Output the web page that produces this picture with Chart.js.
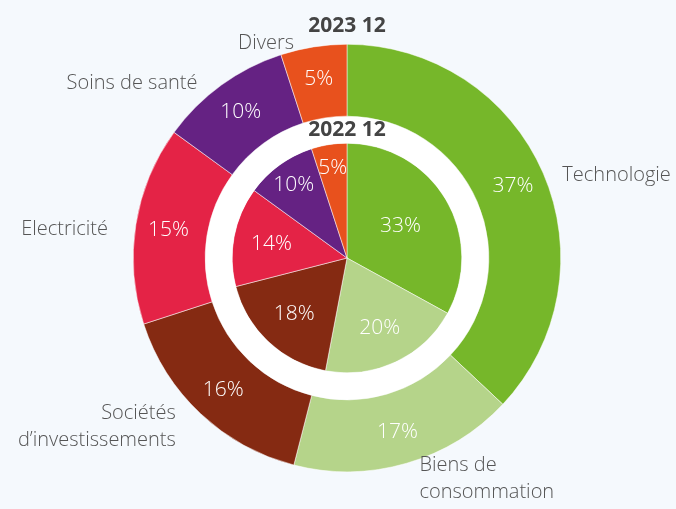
<!DOCTYPE html>
<html>
<head>
<meta charset="utf-8">
<script src="https://cdn.jsdelivr.net/npm/chart.js@4/dist/chart.umd.min.js"></script>
<style>
  html, body { margin: 0; padding: 0; background: #f5f9fd; }
  #wrap { width: 676px; height: 509px; position: relative; }
</style>
</head>
<body>
<div id="wrap"><canvas id="chart"></canvas></div>
<script>
const categories = ['Technologie', ['Biens de', 'consommation'], ['Sociétés', 'd’investissements'], 'Electricité', 'Soins de santé', 'Divers'];
const values2023 = [37, 17, 16, 15, 10, 5];
const values2022 = [33, 20, 18, 14, 10, 5];
const colors = ['#76b72a', '#b5d48a', '#852a12', '#e42346', '#652283', '#e8511d'];
const outerTitle = '2023 12';
const innerTitle = '2022 12';

const FONT = '"Open Sans", sans-serif';

// draws the % inside slices, category names around the outer ring and both titles
const labelsPlugin = {
    id: 'ringLabels',
    afterDatasetsDraw(chart) {
        const ctx = chart.ctx;
        const outer = chart.getDatasetMeta(0);
        const inner = chart.getDatasetMeta(2);
        ctx.save();
        ctx.textBaseline = 'middle';

        ctx.fillStyle = '#fff';
        ctx.textAlign = 'center';
        ctx.font = '300 21px ' + FONT;
        outer.data.forEach((arc, i) => {
            const a = (arc.startAngle + arc.endAngle) / 2;
            const r = (arc.innerRadius + arc.outerRadius) / 2 + 3;
            ctx.fillText(values2023[i] + '%', arc.x + Math.cos(a) * r, arc.y + Math.sin(a) * r);
        });
        inner.data.forEach((arc, i) => {
            const a = (arc.startAngle + arc.endAngle) / 2;
            const v = values2022[i];
            const k = v > 30 ? 0.54 : (v > 10 ? 0.67 : 0.79);
            const r = arc.outerRadius * k;
            ctx.fillText(v + '%', arc.x + Math.cos(a) * r, arc.y + Math.sin(a) * r);
        });

        // category names
        ctx.fillStyle = '#555';
        ctx.font = '300 20px ' + FONT;
        outer.data.forEach((arc, i) => {
            const a = (arc.startAngle + arc.endAngle) / 2;
            const r = arc.outerRadius + 10;
            const left = Math.cos(a) < 0;
            const lines = [].concat(categories[i]);
            const x = arc.x + Math.cos(a) * r + (left ? -18 : 10);
            const y = arc.y + Math.sin(a) * r + 6;
            ctx.textAlign = left ? 'right' : 'left';
            const lh = 27;
            lines.forEach((t, k) => {
                ctx.fillText(t, x, y + (k - (lines.length - 1) / 2) * lh);
            });
        });

        // titles
        const arc0 = outer.data[0];
        ctx.fillStyle = '#444';
        ctx.textAlign = 'center';
        ctx.font = 'bold 21px ' + FONT;
        ctx.fillText(outerTitle, arc0.x, arc0.y - arc0.outerRadius - 18);
        const mid = chart.getDatasetMeta(1).data[0];
        ctx.fillText(innerTitle, mid.x, mid.y - (mid.innerRadius + mid.outerRadius) / 2);
        ctx.restore();
    }
};

new Chart(document.getElementById('chart'), {
    type: 'doughnut',
    data: {
        labels: categories,
        datasets: [
            { label: outerTitle, data: values2023, backgroundColor: colors, borderColor: '#fff', borderWidth: 0.5, weight: 72 },
            { label: 'gap', data: [1], backgroundColor: ['#ffffff'], borderWidth: 0, weight: 27 },
            { label: innerTitle, data: values2022, backgroundColor: colors, borderColor: '#fff', borderWidth: 0.5, weight: 115 }
        ]
    },
    options: {
        responsive: true,
        maintainAspectRatio: false,
        animation: false,
        events: [],
        cutout: 0,
        layout: { padding: { top: 44, bottom: 37, left: 133, right: 115 } },
        plugins: {
            legend: { display: false },
            tooltip: { enabled: false }
        }
    },
    plugins: [labelsPlugin]
});
</script>
</body>
</html>
